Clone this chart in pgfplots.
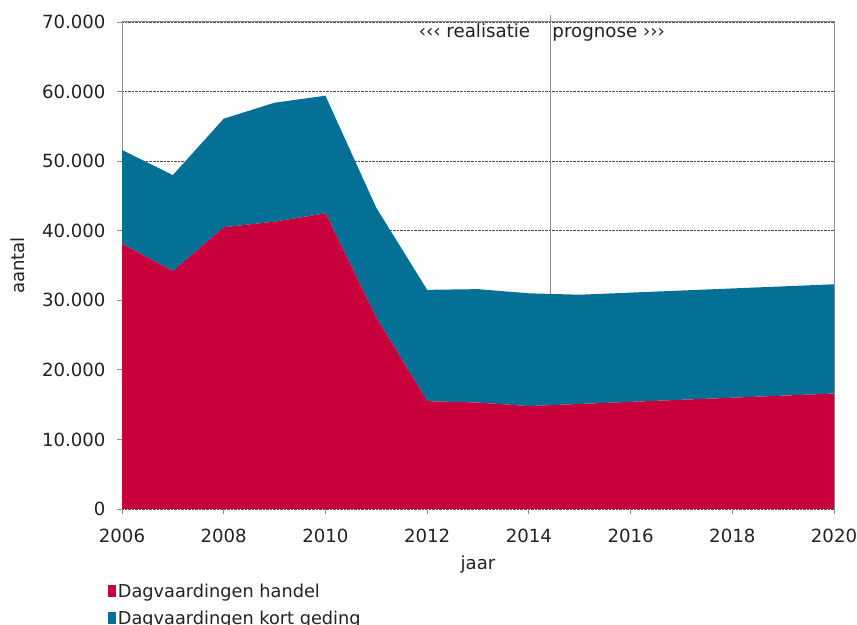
\documentclass[border=0pt]{standalone}
\usepackage{pgfplots}
\pgfplotsset{compat=1.18}
\usepackage{fontspec}
\setmainfont{DejaVu Sans}
\definecolor{cred}{HTML}{C8003C}
\definecolor{cblue}{HTML}{057095}
\definecolor{axgray}{HTML}{8C8C8C}
\definecolor{txt}{HTML}{222222}
\begin{document}
\begin{tikzpicture}[x=1bp,y=1bp]
\path[use as bounding box] (0,0) rectangle (857,625);
\begin{axis}[
  at={(122bp,116bp)}, anchor=south west,
  scale only axis, width=712bp, height=487bp,
  xmin=2006, xmax=2020, ymin=0, ymax=70000,
  xtick={2006,2008,...,2020}, ytick={0,10000,...,70000},
  scaled y ticks=false,
  yticklabel style={/pgf/number format/fixed, /pgf/number format/1000 sep={.}, /pgf/number format/assume math mode=true, xshift=-8bp},
  xticklabel style={/pgf/number format/1000 sep={}, /pgf/number format/assume math mode=true, yshift=-12bp},
  stack plots=y,
  axis line style={axgray, line width=1pt},
  tick style={axgray, line width=0.8pt},
  tick align=outside, major tick length=5bp,
  xtick pos=left, ytick pos=left,
  ymajorgrids, major grid style={densely dotted, black!70, line width=0.6pt},
  tick label style={font=\fontsize{18.2}{20}\selectfont, text=txt},
  xlabel={jaar}, ylabel={aantal},
  label style={font=\fontsize{18.2}{20}\selectfont, text=txt},
  xlabel style={yshift=-6bp},
  ylabel style={yshift=10bp},
  clip=false,
  legend style={at={(rel axis cs:-0.02,-0.149)}, anchor=north west, draw=none, fill=none,
    font=\fontsize{17.8}{20}\selectfont, text=txt, row sep=8bp, inner sep=0pt},
  legend cell align=left,
  legend image code/.code={\fill[#1] (0bp,-6bp) rectangle (8bp,6bp);},
]
\addplot[fill=cred, draw=none] coordinates {
(2006,38100) (2007,34200) (2008,40500) (2009,41300) (2010,42500) (2011,27500)
(2012,15500) (2013,15300) (2014,14800) (2015,15100) (2016,15400) (2017,15700)
(2018,16000) (2019,16300) (2020,16600)} \closedcycle;
\addlegendentry{Dagvaardingen handel}
\addplot[fill=cblue, draw=none] coordinates {
(2006,13500) (2007,13800) (2008,15600) (2009,17100) (2010,16900) (2011,15800)
(2012,16000) (2013,16300) (2014,16200) (2015,15700) (2016,15700) (2017,15700)
(2018,15700) (2019,15700) (2020,15700)} \closedcycle;
\addlegendentry{Dagvaardingen kort geding}
\draw[axgray, line width=1pt] (rel axis cs:0,1) -- (rel axis cs:1,1);
\draw[axgray, line width=1pt] (axis cs:2014.42,800) -- (axis cs:2014.42,71000);
\node[anchor=base east, text=txt, font=\fontsize{18.3}{20}\selectfont, inner sep=0pt] at (axis cs:2014.03,67700) {‹‹‹ realisatie};
\node[anchor=base west, text=txt, font=\fontsize{18.3}{20}\selectfont, inner sep=0pt] at (axis cs:2014.46,67700) {prognose ›››};
\end{axis}
\end{tikzpicture}
\end{document}
